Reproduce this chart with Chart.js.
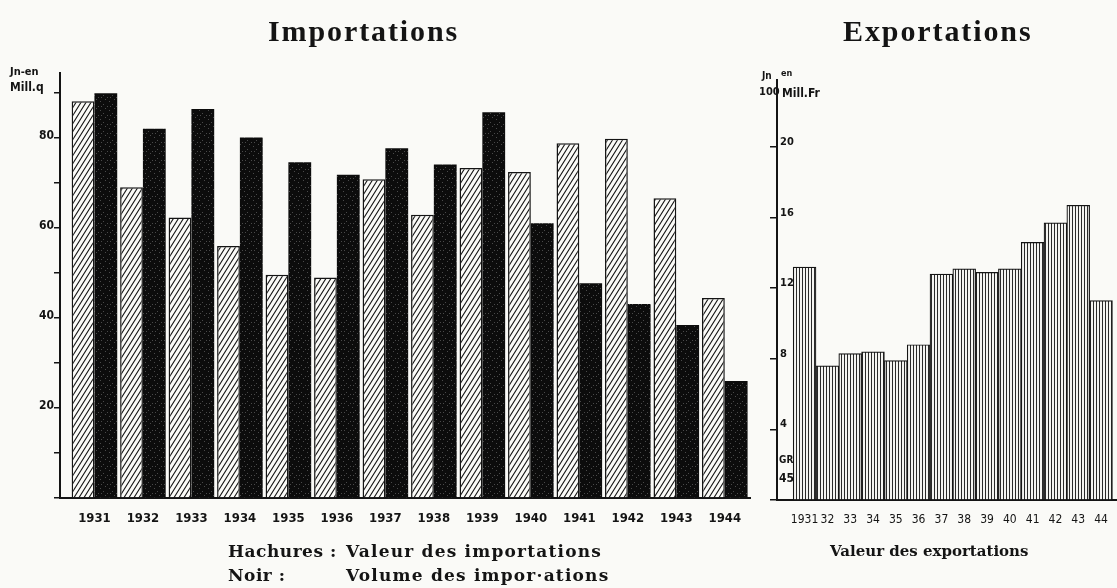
<!DOCTYPE html>
<html>
<head>
<meta charset="utf-8">
<script src="https://cdn.jsdelivr.net/npm/chart.js@4.4.1/dist/chart.umd.min.js"></script>
<style>
  html, body { margin: 0; padding: 0; }
  body { width: 1117px; height: 588px; background: #fafaf7; position: relative; overflow: hidden; color: #141414; }
  canvas { position: absolute; top: 0; }
  #imp { left: 0; }
  #exp { left: 700px; }
  .t { position: absolute; white-space: pre; line-height: 1; }
  .title { font-family: "Liberation Serif", serif; font-weight: bold; font-size: 30px; letter-spacing: 1.9px; }
  .cap { font-family: "DejaVu Serif", serif; font-weight: bold; font-size: 17px; letter-spacing: 1.2px; }
  .hand { font-family: "DejaVu Sans Condensed", "DejaVu Sans", sans-serif; font-weight: bold; }
</style>
</head>
<body>
<canvas id="imp" width="770" height="588"></canvas>
<canvas id="exp" width="417" height="588"></canvas>

<div class="t title" style="left:268px; top:16px;">Importations</div>
<div class="t title" style="left:843px; top:16px;">Exportations</div>

<div class="t hand" style="left:10px; top:66px; font-size:11px;">Jn-en</div>
<div class="t hand" style="left:10px; top:81px; font-size:12px;">Mill.q</div>

<div class="t hand" style="left:762px; top:71px; font-size:10px;">Jn</div>
<div class="t hand" style="left:781px; top:69px; font-size:9px;">en</div>
<div class="t hand" style="left:759px; top:86px; font-size:11px;">100</div>
<div class="t hand" style="left:782px; top:87px; font-size:12px;">Mill.Fr</div>
<div class="t hand" style="left:779px; top:455px; font-size:10px;">GR</div>
<div class="t hand" style="left:779px; top:472px; font-size:12px;">45</div>

<div class="t cap" style="left:228px; top:543px; letter-spacing:0.5px;">Hachures :</div>
<div class="t cap" style="left:346px; top:543px;">Valeur des importations</div>
<div class="t cap" style="left:228px; top:567px; letter-spacing:0.5px;">Noir :</div>
<div class="t cap" style="left:346px; top:567px;">Volume des impor·ations</div>
<div class="t cap" style="left:830px; top:544px; font-size:15px; letter-spacing:0;">Valeur des exportations</div>

<script>
// données
const years = [1931, 1932, 1933, 1934, 1935, 1936, 1937, 1938, 1939, 1940, 1941, 1942, 1943, 1944];
// Importations (en Mill. q)
const valeurImport = [88.1, 69.0, 62.3, 56.0, 49.6, 49.0, 70.8, 62.9, 73.3, 72.4, 78.8, 79.8, 66.6, 44.4];
const volumeImport = [89.9, 82.0, 86.4, 80.1, 74.6, 71.8, 77.7, 74.1, 85.7, 61.0, 47.7, 43.1, 38.4, 26.0];
// Exportations (en 100 Mill. Fr)
const valeurExport = [13.2, 7.6, 8.3, 8.4, 7.9, 8.8, 12.8, 13.1, 12.9, 13.1, 14.6, 15.7, 16.7, 11.3];
// étiquettes
const impYTicks = [20, 40, 60, 80];
const expXLabels = ['1931', '32', '33', '34', '35', '36', '37', '38', '39', '40', '41', '42', '43', '44'];

const ink = '#141414';

// motifs de remplissage
function hatchDiag() {
    const c = document.createElement('canvas');
    c.width = 5; c.height = 8;
    const x = c.getContext('2d');
    x.fillStyle = '#fbfbf8';
    x.fillRect(0, 0, 5, 8);
    x.strokeStyle = ink;
    x.lineWidth = 1.1;
    x.beginPath();
    x.moveTo(-1, 9.6); x.lineTo(6, -1.6);
    x.moveTo(4, 9.6); x.lineTo(6, 6.4);
    x.moveTo(-1, 1.6); x.lineTo(1, -1.6);
    x.stroke();
    return x.createPattern(c, 'repeat');
}

function speckle() {
    const c = document.createElement('canvas');
    c.width = 9; c.height = 9;
    const x = c.getContext('2d');
    x.fillStyle = '#0c0c0c';
    x.fillRect(0, 0, 9, 9);
    x.fillStyle = '#4a4a4a';
    x.fillRect(1, 2, 1, 1);
    x.fillRect(6, 0, 1, 1);
    x.fillRect(4, 5, 1, 1);
    x.fillRect(8, 7, 1, 1);
    x.fillRect(2, 7, 1, 1);
    return x.createPattern(c, 'repeat');
}

function hatchVert() {
    const c = document.createElement('canvas');
    c.width = 3; c.height = 4;
    const x = c.getContext('2d');
    x.fillStyle = '#f4f4f1';
    x.fillRect(0, 0, 3, 4);
    x.fillStyle = '#2a2a2a';
    x.fillRect(0, 0, 1, 4);
    return x.createPattern(c, 'repeat');
}

const tickFont = { family: '"DejaVu Sans Condensed", "DejaVu Sans", sans-serif', size: 13, weight: 'bold' };

// graphique des importations
const impCtx = document.getElementById('imp');
new Chart(impCtx, {
    type: 'bar',
    data: {
        datasets: [{
            label: 'Valeur des importations',
            data: years.map((y, i) => ({ x: y, y: valeurImport[i] })),
            backgroundColor: hatchDiag(),
            borderColor: ink,
            borderWidth: 1.5,
            categoryPercentage: 0.94,
            barPercentage: 1.0,
        }, {
            label: 'Volume des importations',
            data: years.map((y, i) => ({ x: y, y: volumeImport[i] })),
            backgroundColor: speckle(),
            borderColor: ink,
            borderWidth: 0,
            categoryPercentage: 0.94,
            barPercentage: 1.0,
        }]
    },
    options: {
        responsive: false,
        animation: false,
        layout: { padding: { left: 0, top: 73, right: 20, bottom: 50 } },
        plugins: { legend: { display: false }, tooltip: { enabled: false } },
        scales: {
            x: {
                type: 'linear',
                offset: false,
                min: 1930.29,
                max: 1944.52,
                afterBuildTicks: s => { s.ticks = years.map(v => ({ value: v })); },
                afterFit: s => { s.height = 40; },
                grid: { display: false },
                border: { display: true, color: ink, width: 2 },
                ticks: {
                    autoSkip: false, maxRotation: 0, padding: 5, color: ink, font: tickFont,
                    callback: v => String(v),
                },
            },
            y: {
                min: 0,
                max: 94.4,
                afterFit: s => { s.width = 60; },
                grid: { drawOnChartArea: false, color: ink, lineWidth: 1.5, tickLength: 6 },
                border: { color: ink, width: 2 },
                ticks: {
                    stepSize: 10, includeBounds: false, padding: 0, labelOffset: -2,
                    color: ink, font: { family: tickFont.family, size: 12, weight: 'bold' },
                    callback: v => impYTicks.includes(v) ? String(v) : '',
                },
            }
        }
    }
});

// graphique des exportations
const expCtx = document.getElementById('exp');
new Chart(expCtx, {
    type: 'bar',
    data: {
        datasets: [{
            label: 'Valeur des exportations',
            data: years.map((y, i) => ({ x: y, y: valeurExport[i] })),
            backgroundColor: hatchVert(),
            borderColor: ink,
            borderWidth: 1.2,
            categoryPercentage: 1.0,
            barPercentage: 1.0,
        }]
    },
    options: {
        responsive: false,
        animation: false,
        layout: { padding: { left: 0, top: 80, right: 0, bottom: 48 } },
        plugins: { legend: { display: false }, tooltip: { enabled: false } },
        scales: {
            x: {
                type: 'linear',
                offset: false,
                min: 1929.79,
                max: 1944.70,
                afterBuildTicks: s => { s.ticks = years.map(v => ({ value: v })); },
                afterFit: s => { s.height = 40; },
                grid: { display: false },
                border: { display: true, color: ink, width: 2 },
                ticks: {
                    autoSkip: false, maxRotation: 0, padding: 5, color: ink,
                    font: { family: tickFont.family, size: 12, weight: 'normal' },
                    callback: (v, i) => expXLabels[i],
                },
            },
            y: {
                min: 0,
                max: 23.8,
                afterFit: s => { s.width = 77; },
                grid: { drawOnChartArea: false, color: ink, lineWidth: 1.5, tickLength: 7 },
                border: { color: ink, width: 2 },
                ticks: {
                    stepSize: 4, includeBounds: false, mirror: true, padding: 3, labelOffset: -5,
                    color: ink, font: { family: tickFont.family, size: 11, weight: 'bold' },
                    callback: v => v > 0 ? String(v) : '',
                },
            }
        }
    }
});
</script>
</body>
</html>
